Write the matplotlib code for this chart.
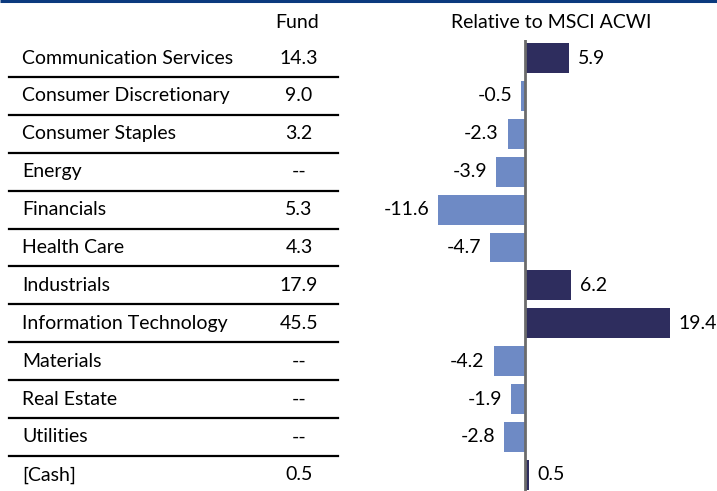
import numpy as np
import matplotlib.pyplot as plt

plt.rcParams['font.family'] = ['Lato', 'DejaVu Sans']

sectors = ['Communication Services', 'Consumer Discretionary', 'Consumer Staples',
           'Energy', 'Financials', 'Health Care', 'Industrials',
           'Information Technology', 'Materials', 'Real Estate', 'Utilities', '[Cash]']
fund = ['14.3', '9.0', '3.2', '--', '5.3', '4.3', '17.9', '45.5', '--', '--', '--', '0.5']
relative = [5.9, -0.5, -2.3, -3.9, -11.6, -4.7, 6.2, 19.4, -4.2, -1.9, -2.8, 0.5]

W, H = 717, 491
fig = plt.figure(figsize=(W / 100, H / 100), dpi=100)
fs = 14

# row geometry in pixels
row0 = 58
step = 37.9

# full figure axes in pixel coordinates for the table part
tab = fig.add_axes([0, 0, 1, 1])
tab.set_xlim(0, W)
tab.set_ylim(H, 0)
tab.axis('off')

tab.plot([0, W], [1, 1], color='#0b3a7e', lw=2.2, solid_capstyle='butt')
tab.text(297, 22, 'Fund', ha='center', va='center', fontsize=fs)
tab.text(551, 22, 'Relative to MSCI ACWI', ha='center', va='center', fontsize=fs)

for i, (s, f) in enumerate(zip(sectors, fund)):
    y = row0 + i * step
    tab.text(22, y, s, ha='left', va='center', fontsize=fs)
    tab.text(299, y, f, ha='center', va='center', fontsize=fs)
    if i < len(sectors) - 1:
        tab.plot([9, 338], [y + step / 2, y + step / 2], color='black', lw=1.6)

# bar axes: zero at x=525 px, ~7.47 px per unit
x0 = 525
scale = 7.47
left_px, right_px = 360, W
top_px = 40
ax = fig.add_axes([left_px / W, 0, (right_px - left_px) / W, (H - top_px) / H])
ax.set_xlim((left_px - x0) / scale, (right_px - x0) / scale)
ax.set_ylim((H - row0) / step, -(row0 - top_px) / step)
ax.axis('off')

pos = np.arange(len(relative))
vals = np.array(relative)
colors = ['#2e2d5e' if v > 0 else '#6e8ac5' for v in vals]
ax.barh(pos, vals, height=0.79, color=colors, zorder=2)
ax.axvline(0, color='#6b6b6b', lw=2, zorder=3)

for p, v in zip(pos, vals):
    if v > 0:
        ax.text(v + 1.2, p, f'{v:.1f}', ha='left', va='center', fontsize=fs)
    else:
        ax.text(v - 1.2, p, f'{v:.1f}', ha='right', va='center', fontsize=fs)

fig.savefig('out.png', dpi=100)
